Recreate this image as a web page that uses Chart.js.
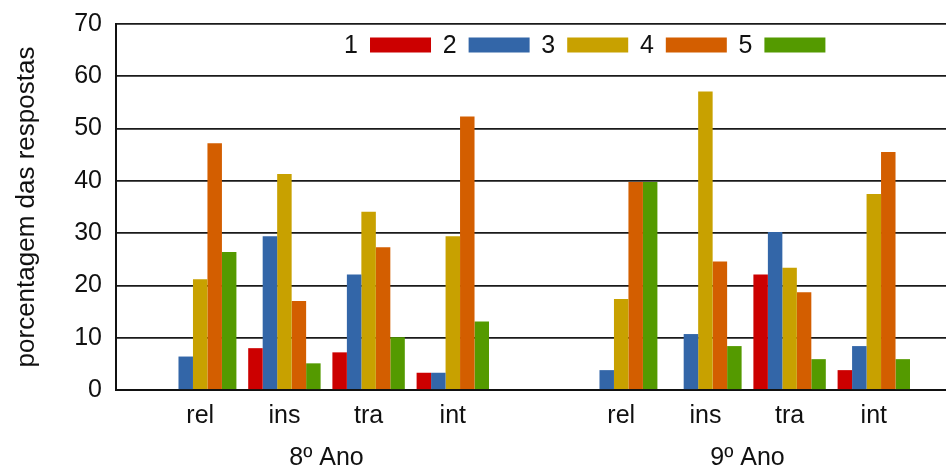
<!DOCTYPE html>
<html>
<head>
<meta charset="utf-8">
<script src="https://cdn.jsdelivr.net/npm/chart.js@4/dist/chart.umd.min.js"></script>
<style>
  html, body { margin: 0; padding: 0; background: #fff; overflow: hidden; width: 946px; height: 469px; }
  canvas { display: block; }
</style>
</head>
<body>
<canvas id="c" width="969" height="469"></canvas>
<script>
// ---- data ----
const subcategories = ['rel', 'ins', 'tra', 'int'];
const groups = ['8º Ano', '9º Ano'];
const seriesNames = ['1', '2', '3', '4', '5'];
const seriesColors = ['#cc0000', '#3366a8', '#c8a100', '#d35e00', '#549a00'];
// values: 8º Ano (rel, ins, tra, int), then 9º Ano (rel, ins, tra, int)
const s1 = [0, 8.0, 7.2, 3.3,   0, 0, 22.1, 3.8];
const s2 = [6.4, 29.4, 22.1, 3.3,   3.8, 10.7, 30.2, 8.4];
const s3 = [21.2, 41.3, 34.1, 29.4,   17.4, 57.1, 23.4, 37.5];
const s4 = [47.2, 17.0, 27.3, 52.3,   39.8, 24.6, 18.7, 45.5];
const s5 = [26.4, 5.1, 10.1, 13.1,   39.8, 8.4, 5.9, 5.9];
const yTicks = [0, 10, 20, 30, 40, 50, 60, 70];
const yTitle = 'porcentagem das respostas';

const FONT = "'Liberation Sans', Arial, Helvetica, sans-serif";

// labels with spacer slots around and between groups
const labels = [''];
groups.forEach((g, gi) => { subcategories.forEach(s => labels.push(s)); labels.push(''); });
function spread(vals) {
  const out = [null];
  groups.forEach((g, gi) => {
    for (let k = 0; k < subcategories.length; k++) out.push(vals[gi * subcategories.length + k]);
    out.push(null);
  });
  return out;
}
const allSeries = [s1, s2, s3, s4, s5];
const datasets = allSeries.map((vals, i) => ({
  label: seriesNames[i],
  data: spread(vals),
  backgroundColor: seriesColors[i],
  borderWidth: 0,
  categoryPercentage: 0.86,
  barPercentage: 1.0
}));

const legendPlugin = {
  id: 'gpLegend',
  afterDraw(chart) {
    const ctx = chart.ctx;
    const a = chart.chartArea;
    const step = 98.6;
    const sw = 61, sh = 15;
    const y = 45;
    ctx.save();
    ctx.font = '25px ' + FONT;
    ctx.textBaseline = 'middle';
    ctx.textAlign = 'right';
    chart.data.datasets.forEach((ds, i) => {
      const boxX = a.left + 254 + i * step;
      ctx.fillStyle = '#111';
      ctx.fillText(ds.label, boxX - 12, y + 1);
      ctx.fillStyle = ds.backgroundColor;
      ctx.fillRect(boxX, y - sh / 2, sw, sh);
    });
    ctx.restore();
  }
};

const groupLabelPlugin = {
  id: 'groupLabels',
  afterDraw(chart) {
    const ctx = chart.ctx;
    const xs = chart.scales.x;
    ctx.save();
    ctx.font = '25px ' + FONT;
    ctx.fillStyle = '#111';
    ctx.textAlign = 'center';
    ctx.textBaseline = 'middle';
    const n = subcategories.length;
    groups.forEach((g, gi) => {
      const first = 1 + gi * (n + 1);
      const last = first + n - 1;
      const cx = (xs.getPixelForValue(first) + xs.getPixelForValue(last)) / 2;
      ctx.fillText(g, cx, 458);
    });
    ctx.restore();
  }
};

new Chart(document.getElementById('c'), {
  type: 'bar',
  data: { labels, datasets },
  options: {
    responsive: false,
    animation: false,
    devicePixelRatio: 1,
    layout: { padding: { left: 11, top: 24, right: 4, bottom: 27 } },
    plugins: { legend: { display: false }, tooltip: { enabled: false } },
    scales: {
      x: {
        offset: false,
        grid: { display: false, drawTicks: false },
        border: { display: true, color: '#111', width: 2 },
        ticks: {
          autoSkip: false, maxRotation: 0, minRotation: 0, padding: 11,
          color: '#111', font: { family: FONT, size: 25 }
        }
      },
      y: {
        min: 0, max: 70,
        afterBuildTicks(scale) { scale.ticks = yTicks.map(v => ({ value: v })); },
        grid: { color: '#1a1a1a', lineWidth: 1.8, drawTicks: true, tickLength: 10, tickColor: 'rgba(0,0,0,0)' },
        border: { display: true, color: '#111', width: 2 },
        ticks: { padding: 4, color: '#111', font: { family: FONT, size: 25 } },
        title: {
          display: true, text: yTitle, color: '#111',
          font: { family: FONT, size: 26 },
          padding: { top: 0, bottom: 28 }
        }
      }
    }
  },
  plugins: [legendPlugin, groupLabelPlugin]
});
</script>
</body>
</html>
